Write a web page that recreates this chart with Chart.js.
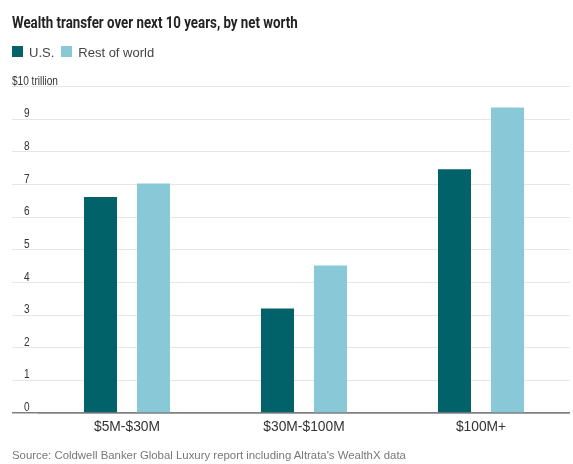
<!DOCTYPE html>
<html>
<head>
<meta charset="utf-8">
<script src="https://cdn.jsdelivr.net/npm/chart.js@4.4.1/dist/chart.umd.min.js"></script>
<style>
  html, body { margin: 0; background: #fff; }
  #wrap { position: relative; width: 573px; height: 464px; font-family: "Liberation Sans", Arial, sans-serif; }
  #wrap canvas { position: absolute; left: 0; top: 0; }
  .title { position: absolute; left: 12px; top: 15px; font: bold 16px/16px Roboto, "Liberation Sans", sans-serif; color: #222; white-space: nowrap; transform-origin: 0 0; }
  .legend { position: absolute; left: 12px; top: 46px; font-size: 13px; line-height: 13px; color: #444; white-space: nowrap; }
  .legend span { display: inline-block; vertical-align: top; }
  .legend .box { width: 11px; height: 11px; margin-right: 6px; }
  .legend .lbl { margin-right: 7px; }
  .source { position: absolute; left: 12px; top: 450px; font-size: 11.4px; line-height: 11px; color: #777; white-space: nowrap; }
</style>
</head>
<body>
<div id="wrap">
  <div id="chartBox" style="position:absolute;left:0;top:0;width:573px;height:464px"><canvas id="wealthChart"></canvas></div>
  <div class="title" id="title">Wealth transfer over next 10 years, by net worth</div>
  <div class="legend" id="legend"></div>
  <div class="source">Source: Coldwell Banker Global Luxury report including Altrata's WealthX data</div>
</div>
<script>
// Dados (trilhões de dólares)
const categories = ['$5M-$30M', '$30M-$100M', '$100M+'];
const seriesNames = ['U.S.', 'Rest of world'];
const usValues = [6.62, 3.2, 7.47];
const restValues = [7.03, 4.52, 9.36];
const yTickLabels = ['0', '1', '2', '3', '4', '5', '6', '7', '8', '9', '$10 trillion'];
const colors = ['#02626a', '#89c9d7'];

// Título em fonte estreita (comprimido na horizontal)
const titleEl = document.getElementById('title');
titleEl.style.transform = `scaleX(${286 / titleEl.offsetWidth})`;

// Legenda em HTML
document.getElementById('legend').innerHTML = seriesNames.map((n, i) =>
  `<span class="box" style="background:${colors[i]}"></span><span class="lbl">${n}</span>`
).join('');

// Rótulos do eixo Y acima das linhas de grade
const yLabels = {
  id: 'yLabels',
  afterDraw(chart) {
    const { ctx, scales: { y } } = chart;
    const sx = 0.84;
    ctx.save();
    ctx.scale(sx, 1);
    ctx.font = '12px "Liberation Sans", Arial, sans-serif';
    ctx.fillStyle = '#333';
    ctx.textAlign = 'left';
    ctx.textBaseline = 'alphabetic';
    y.ticks.forEach((t, i) => {
      const py = y.getPixelForValue(t.value);
      const last = i === y.ticks.length - 1;
      ctx.fillText(yTickLabels[i], (last ? y.left : y.left + 12) / sx, py - 2);
    });
    ctx.restore();
  }
};

const ctx = document.getElementById('wealthChart').getContext('2d');
new Chart(ctx, {
  type: 'bar',
  data: {
    labels: categories,
    datasets: [
      { label: seriesNames[0], data: usValues, backgroundColor: colors[0], borderWidth: 0 },
      { label: seriesNames[1], data: restValues, backgroundColor: colors[1], borderWidth: 0 }
    ]
  },
  options: {
    responsive: true,
    maintainAspectRatio: false,
    animation: false,
    datasets: { bar: { categoryPercentage: 0.599, barPercentage: 0.623 } },
    layout: { padding: { left: 12, right: 3.5, top: 86.7, bottom: 22.4 } },
    plugins: { legend: { display: false }, title: { display: false }, tooltip: { enabled: false } },
    scales: {
      x: {
        grid: { display: false, drawTicks: false },
        border: { display: true, color: '#808080', width: 1.5 },
        ticks: { color: '#333', padding: 6, font: { family: '"Liberation Sans", Arial, sans-serif', size: 13.8 } }
      },
      y: {
        min: 0, max: 10,
        afterFit: s => { s.width = 26.5; },
        ticks: { display: false, stepSize: 1 },
        grid: {
          color: c => c.tick && c.tick.value === 0 ? '#808080' : '#e6e6e6',
          lineWidth: c => c.tick && c.tick.value === 0 ? 1.5 : 1,
          drawTicks: true, tickLength: 26.5
        },
        border: { display: false }
      }
    }
  },
  plugins: [yLabels]
});
</script>
</body>
</html>
